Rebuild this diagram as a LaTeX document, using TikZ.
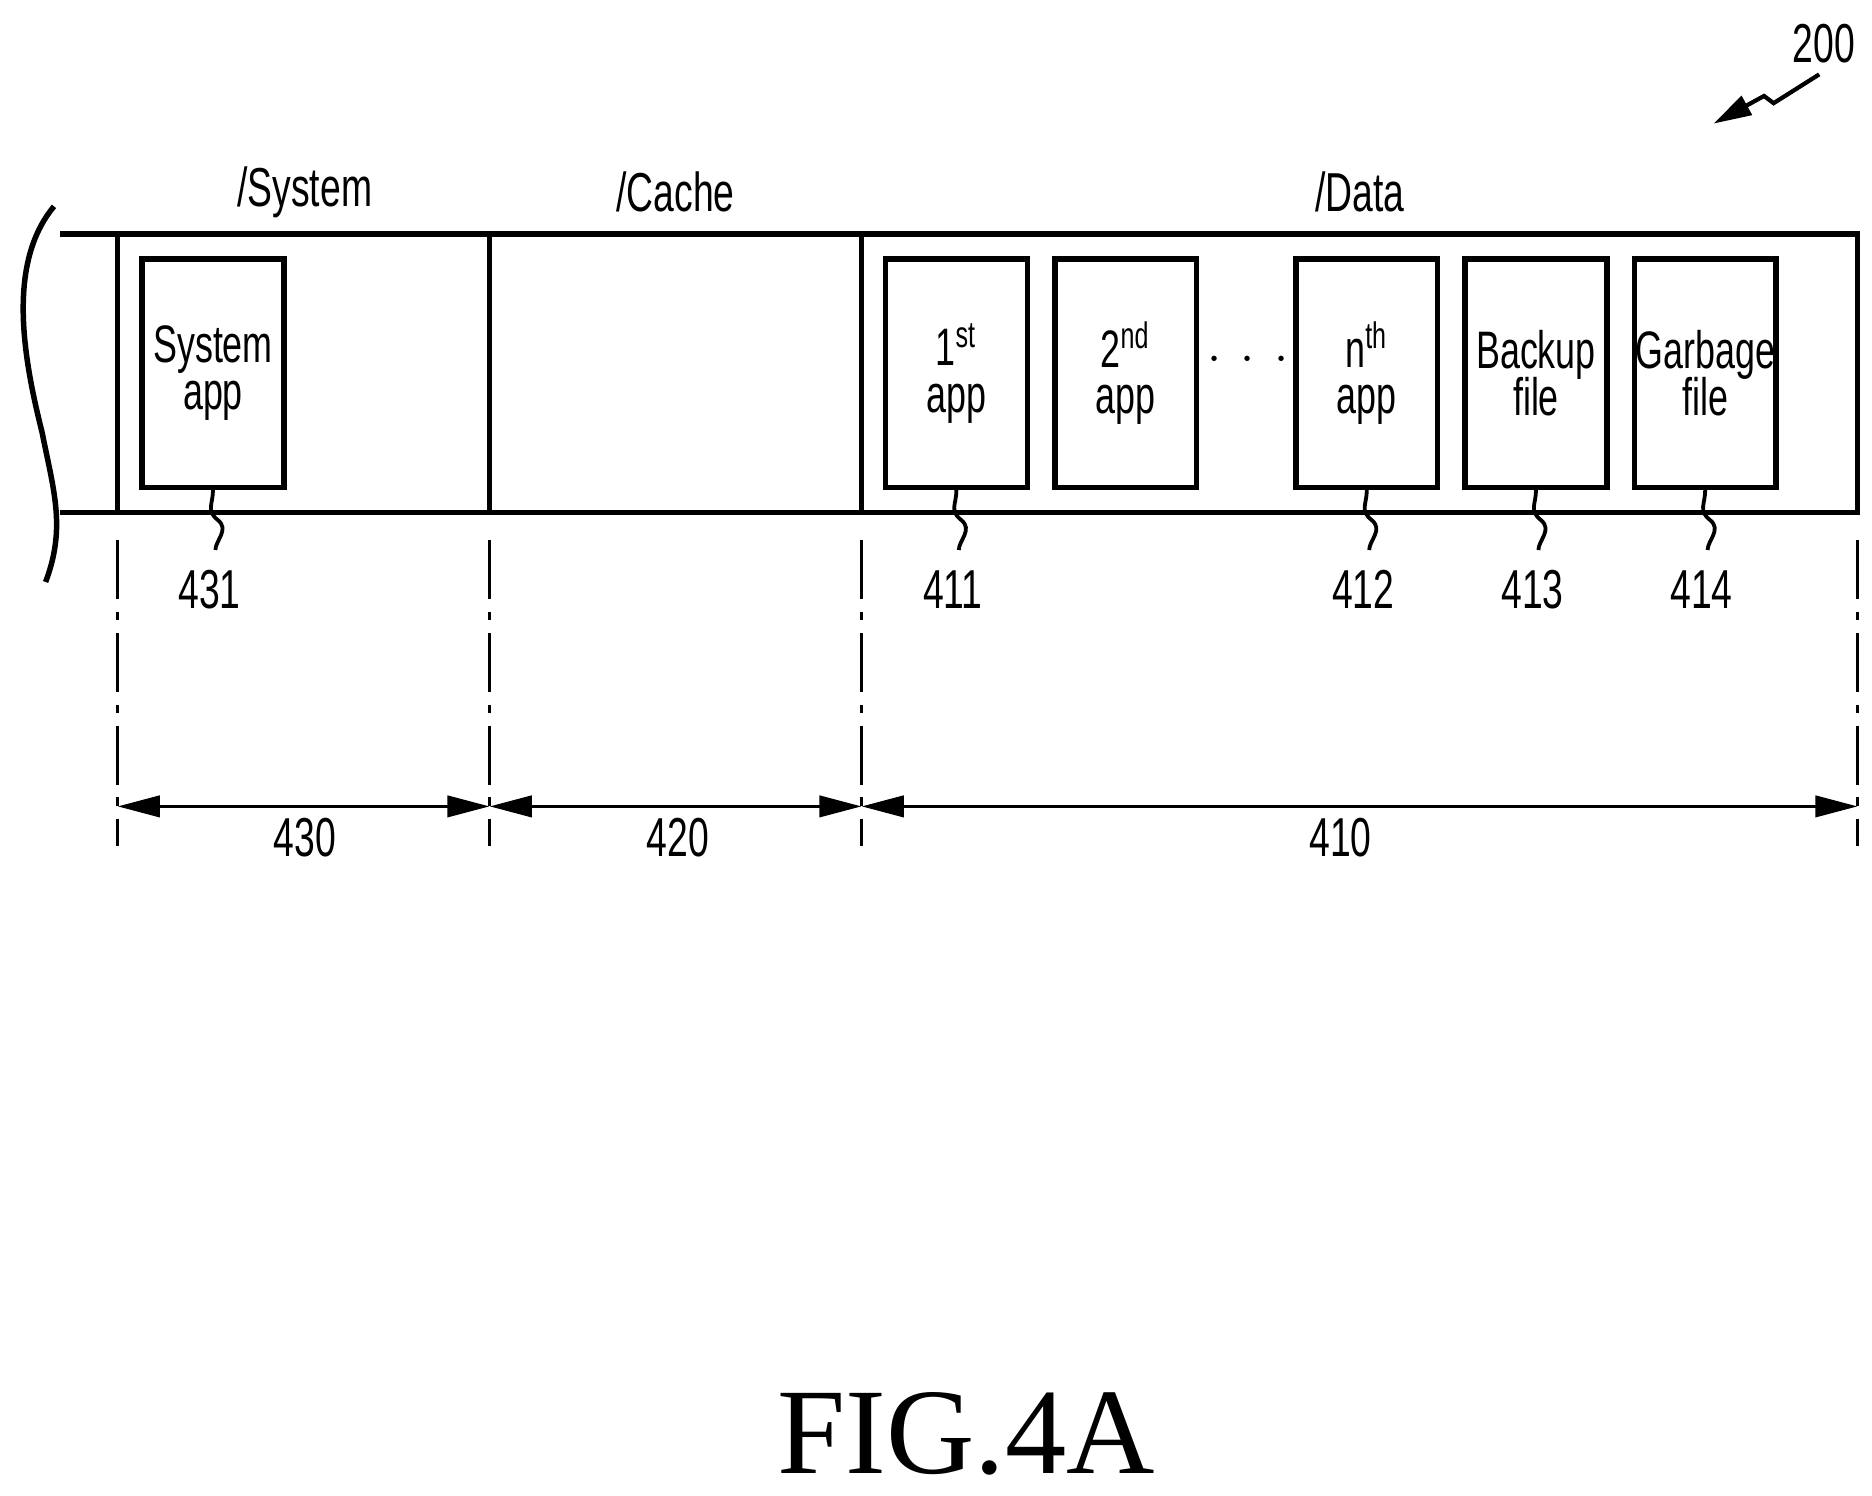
\documentclass[tikz,border=0pt]{standalone}
\usepackage{fontspec}
\setmainfont{Liberation Sans}[FakeStretch=0.68]
\newfontfamily\figfont{Liberation Serif}
\usetikzlibrary{arrows.meta}
\begin{document}
\begin{tikzpicture}[x=0.01cm,y=-0.01cm,line width=1.3pt,
  box/.style={draw,minimum width=1.18cm,minimum height=1.9cm,text width=1.18cm,inner sep=0pt,align=center,font=\fontsize{12.5}{14}\selectfont},
  lab/.style={font=\fontsize{13}{14}\selectfont},
  dd/.style={line width=0.8pt,dash pattern=on 14pt off 3pt on 2pt off 3pt},
  dim/.style={line width=0.9pt,{Triangle[length=10pt,width=5pt]}-{Triangle[length=10pt,width=5pt]}}]
\useasboundingbox (0,0) rectangle (1560,1246);
% band
\draw (50,195) -- (1548,195) -- (1548,427) -- (50,427);
\draw (45,172) .. controls (5,220) and (20,300) .. (35,360) .. controls (45,410) and (55,440) .. (38,485);
\foreach \x in {98,408,718} \draw (\x,195) -- (\x,427);
\node[lab] (ls) at (254,160) {/System};
\node[lab] (lc) at (563,160) {/Cache};
\node[lab] (ld) at (1133,160) {/Data};
% boxes
\node[box] (b0) at (177.5,311) {System\\[-3pt]app};
\node[box] (b1) at (797,311) {1\textsuperscript{st}\\[-3pt]app};
\node[box] (b2) at (938,311) {2\textsuperscript{nd}\\[-3pt]app};
\node[box] (b3) at (1139,311) {n\textsuperscript{th}\\[-3pt]app};
\node[box] (b4) at (1280,311) {Backup\\[-3pt]file};
\node[box] (b5) at (1421,311) {Garbage\\[-3pt]file};
\node[lab] (dots) at (1040,300) {$\cdot\,\cdot\,\cdot$};
% leaders
\foreach \b/\n in {b0/431,b1/411,b3/412,b4/413,b5/414}{
  \node[lab] (n\n) at ([xshift=-0.03cm,yshift=-0.83cm]\b.south) {\n};
  \draw[line width=0.9pt] (\b.south) .. controls +(0,12) and +(-10,-8) .. ++(4,25) .. controls +(10,8) and +(0,-8) .. ++(-2,25);
}
% dash-dot
\coordinate (d0) at (98,450); \coordinate (d1) at (408,450); \coordinate (d2) at (718,450); \coordinate (d3) at (1548,450);
\coordinate (e0) at (98,705); \coordinate (e1) at (408,705); \coordinate (e2) at (718,705); \coordinate (e3) at (1548,705);
\foreach \i in {0,...,3} \draw[dd] (d\i) -- (e\i);
\coordinate (a0) at (98,672); \coordinate (a1) at (408,672); \coordinate (a2) at (718,672); \coordinate (a3) at (1548,672);
\draw[dim] (a0) -- (a1); \draw[dim] (a1) -- (a2); \draw[dim] (a2) -- (a3);
\node[lab] (n430) at (254,698) {430};
\node[lab] (n420) at (565,698) {420};
\node[lab] (n410) at (1117,698) {410};
% 200
\node[lab] (n200) at (1520,36) {200};
\coordinate (z0) at (1516,62);
\coordinate (z1) at (1428,103);
\draw[line width=1pt,-{Triangle[length=9pt,width=5pt]}] (z0) -- (1478,86) -- (1470,80) -- (z1);
\node[font=\figfont\fontsize{29}{29}\selectfont] (fig) at (805,1195) {FIG.4A};
\end{tikzpicture}
\end{document}
